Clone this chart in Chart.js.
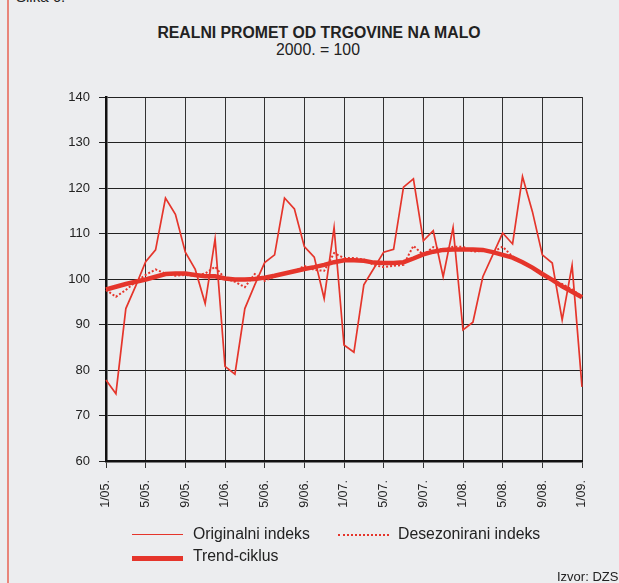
<!DOCTYPE html>
<html>
<head>
<meta charset="utf-8">
<script src="https://cdn.jsdelivr.net/npm/chart.js@4/dist/chart.umd.min.js"></script>
<style>
  html, body { margin: 0; padding: 0; }
  body { width: 619px; height: 583px; background: #ecedef; position: relative; overflow: hidden;
         font-family: "Liberation Sans", Arial, sans-serif; color: #222; }
  #wrap { position: absolute; left: 0; top: 0; width: 619px; height: 583px; }
  .txt { position: absolute; white-space: nowrap; }
  .sample { position: absolute; width: 51px; height: 0; }
</style>
</head>
<body>
<div style="position:absolute;left:7px;top:0;width:1.5px;height:583px;background:#e9857a;"></div>
<div class="txt" style="left:16px;top:-12px;font-size:15px;">Slika 6.</div>
<div class="txt" style="left:0;width:638px;top:24px;text-align:center;font-size:15.8px;font-weight:bold;">REALNI PROMET OD TRGOVINE NA MALO</div>
<div class="txt" style="left:0;width:636px;top:41px;text-align:center;font-size:15.8px;">2000. = 100</div>
<div id="wrap"><canvas id="canvas" width="619" height="583"></canvas></div>

<div class="sample" style="left:132px;top:534px;border-top:1.6px solid #e5352b;"></div>
<div class="txt" style="left:193px;top:525px;font-size:15.8px;">Originalni indeks</div>
<div class="sample" style="left:338px;top:534px;border-top:2px dotted #e5352b;"></div>
<div class="txt" style="left:398px;top:525px;font-size:15.8px;">Desezonirani indeks</div>
<div class="sample" style="left:132px;top:555.5px;border-top:5px solid #e5352b;"></div>
<div class="txt" style="left:193px;top:547px;font-size:15.8px;">Trend-ciklus</div>
<div class="txt" style="left:557px;top:569px;font-size:13px;">Izvor: DZS</div>

<script>
// mjeseci 1/05. - 1/09.
var months = [
  '1/05.','2/05.','3/05.','4/05.','5/05.','6/05.','7/05.','8/05.','9/05.','10/05.','11/05.','12/05.',
  '1/06.','2/06.','3/06.','4/06.','5/06.','6/06.','7/06.','8/06.','9/06.','10/06.','11/06.','12/06.',
  '1/07.','2/07.','3/07.','4/07.','5/07.','6/07.','7/07.','8/07.','9/07.','10/07.','11/07.','12/07.',
  '1/08.','2/08.','3/08.','4/08.','5/08.','6/08.','7/08.','8/08.','9/08.','10/08.','11/08.','12/08.',
  '1/09.'
];
var originalni = [
  77.8, 74.8, 93.5, 98.5, 103.8, 106.4, 117.8, 114.2, 105.9, 102.1, 94.6, 108.8,
  80.8, 79.1, 93.5, 98.7, 103.6, 105.3, 117.8, 115.4, 107.1, 104.8, 95.7, 111.3,
  85.5, 83.9, 98.7, 102.3, 105.9, 106.5, 120.2, 122.0, 108.4, 110.6, 100.5, 111.3,
  88.8, 90.5, 100.5, 105.3, 110.1, 107.7, 122.5, 114.8, 105.3, 103.5, 91.0, 103.0,
  76.3
];
var desezonirani = [
  97.6, 96.1, 97.6, 99.4, 100.9, 102.1, 101.2, 100.7, 100.9, 100.7, 101.2, 102.7,
  100.1, 99.4, 98.2, 101.1, 99.6, 100.5, 101.4, 101.6, 102.9, 102.0, 101.8, 105.7,
  104.6, 104.6, 104.3, 103.1, 102.6, 102.9, 103.1, 107.3, 105.3, 107.0, 106.4, 107.1,
  107.1, 106.0, 106.2, 105.9, 107.1, 104.9, 103.8, 102.3, 100.9, 99.6, 98.9, 97.7,
  96.1
];
var trend = [
  97.7, 98.3, 98.9, 99.4, 99.9, 100.5, 101.1, 101.2, 101.2, 100.9, 100.6, 100.6,
  100.1, 99.9, 99.9, 100.0, 100.3, 100.7, 101.2, 101.7, 102.2, 102.6, 103.1, 103.7,
  104.1, 104.1, 104.0, 103.6, 103.5, 103.5, 103.7, 104.5, 105.4, 106.0, 106.4, 106.5,
  106.5, 106.5, 106.4, 105.9, 105.3, 104.7, 103.7, 102.5, 101.1, 99.8, 98.4, 97.2,
  96.0
];
var yMin = 60, yMax = 140, yStep = 10;
var red = '#e5352b';

var ctx = document.getElementById('canvas').getContext('2d');
window.myLine = new Chart(ctx, {
  type: 'line',
  data: {
    labels: months,
    datasets: [
      { label: 'Originalni indeks', data: originalni, borderColor: red, borderWidth: 1.7, pointRadius: 0, tension: 0, order: 3 },
      { label: 'Trend-ciklus', data: trend, borderColor: red, borderWidth: 4.5, pointRadius: 0, tension: 0, order: 2 },
      { label: 'Desezonirani indeks', data: desezonirani, borderColor: red, borderWidth: 2, borderDash: [2, 2], pointRadius: 0, tension: 0, order: 1 }
    ]
  },
  options: {
    responsive: false,
    animation: false,
    layout: { padding: { left: 36, right: 37, top: 97, bottom: 62 } },
    plugins: { legend: { display: false }, title: { display: false }, tooltip: { enabled: false } },
    scales: {
      x: {
        offset: false,
        grid: { color: '#333', lineWidth: 1, tickLength: 7, drawTicks: true },
        border: { display: true, color: '#111', width: 2.5 },
        ticks: {
          autoSkip: false, minRotation: 90, maxRotation: 90, padding: 12,
          color: '#222', font: { family: 'Liberation Sans', size: 12.5 },
          callback: function(val, idx) { return idx % 4 === 0 ? this.getLabelForValue(val) : null; }
        },
        afterFit: function(s) { s.height = 60; }
      },
      y: {
        min: yMin, max: yMax,
        grid: { color: '#222', lineWidth: 1, tickLength: 7 },
        border: { display: true, color: '#111', width: 2.5 },
        ticks: { stepSize: yStep, padding: 9, color: '#222', font: { family: 'Liberation Sans', size: 13 } },
        afterFit: function(s) { s.width = 70; }
      }
    }
  }
});
</script>
</body>
</html>
